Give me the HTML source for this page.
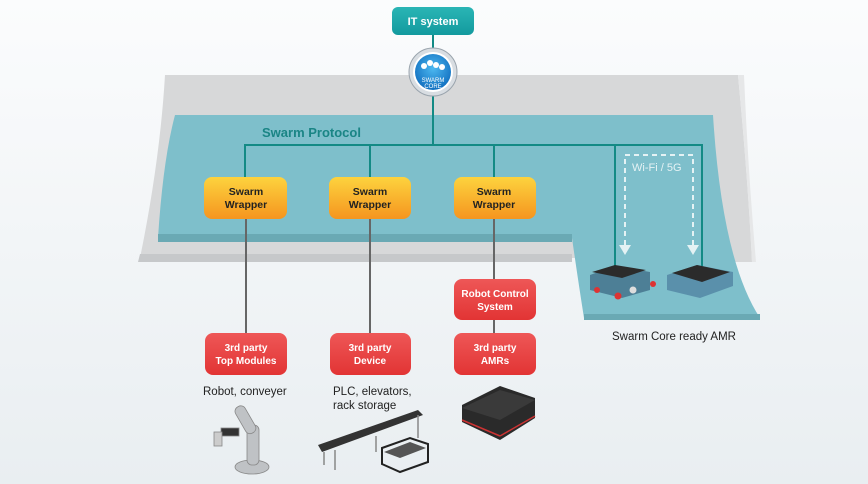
<!DOCTYPE html>
<html><head><meta charset="utf-8"><style>
html,body{margin:0;padding:0;background:#f2f5f7;}
svg{display:block;font-family:"Liberation Sans",sans-serif;}
</style></head><body>
<svg width="868" height="484" viewBox="0 0 868 484" xmlns="http://www.w3.org/2000/svg">
<defs>
<linearGradient id="bg" x1="0" y1="0" x2="0" y2="1"><stop offset="0" stop-color="#fbfcfd"/><stop offset="1" stop-color="#e9eef1"/></linearGradient>
<linearGradient id="org" x1="0" y1="0" x2="0" y2="1"><stop offset="0" stop-color="#fdd33e"/><stop offset="1" stop-color="#f5951f"/></linearGradient>
<linearGradient id="red" x1="0" y1="0" x2="0" y2="1"><stop offset="0" stop-color="#ee5757"/><stop offset="1" stop-color="#e23434"/></linearGradient>
<linearGradient id="tl" x1="0" y1="0" x2="0" y2="1"><stop offset="0" stop-color="#2ab5b5"/><stop offset="1" stop-color="#139a9e"/></linearGradient>
<radialGradient id="core" cx="0.5" cy="0.4" r="0.6"><stop offset="0" stop-color="#4cb8f0"/><stop offset="1" stop-color="#1270c0"/></radialGradient>
</defs>
<rect width="868" height="484" fill="url(#bg)"/>
<path d="M165 75 L738 75 Q748 180 752 262 L585 262 L585 258 L140 258 Q160 160 165 75Z" fill="#d7d8d9"/>
<path d="M140 254 L572 254 L572 262 L138 262Z" fill="#c6c8ca"/>
<path d="M738 75 Q748 180 752 262 L756 262 Q748 170 744 75Z" fill="#e6e7e8"/>
<path d="M175 115 L713 115 Q722 260 760 318 L584 318 Q578 280 572 238 L158 238 Q163 160 175 115Z" fill="#7ebfcb"/>
<path d="M158 234 L572 234 L572 242 L158 242Z" fill="#6aa9b4"/>
<path d="M584 314 L760 314 L760 320 L584 320Z" fill="#6aa9b4"/>
<text x="262" y="137" font-size="13" font-weight="bold" fill="#1a8585">Swarm Protocol</text>
<g stroke="#138a85" stroke-width="2" fill="none">
<line x1="433" y1="34" x2="433" y2="145"/>
<polyline points="245,178 245,145 702,145 702,270"/>
<line x1="370" y1="145" x2="370" y2="178"/>
<line x1="494" y1="145" x2="494" y2="178"/>
<line x1="615" y1="145" x2="615" y2="270"/>
</g>
<g stroke="#666" stroke-width="2">
<line x1="246" y1="219" x2="246" y2="333"/>
<line x1="370" y1="219" x2="370" y2="333"/>
<line x1="494" y1="219" x2="494" y2="280"/>
<line x1="494" y1="320" x2="494" y2="333"/>
</g>
<g stroke="#e4f2f4" stroke-width="2" stroke-dasharray="5,4" fill="none">
<polyline points="625,245 625,155 693,155 693,245"/>
</g>
<polygon points="619,245 631,245 625,255" fill="#e4f2f4"/>
<polygon points="687,245 699,245 693,255" fill="#e4f2f4"/>
<text x="632" y="171" font-size="11" fill="#e4f2f4">Wi-Fi / 5G</text>
<rect x="392" y="7" width="82" height="28" rx="6" fill="url(#tl)"/>
<text x="433" y="25" font-size="11" font-weight="bold" fill="#fff" text-anchor="middle">IT system</text>
<circle cx="433" cy="72" r="24" fill="#d8dde2" stroke="#9aa4ad" stroke-width="1"/>
<circle cx="433" cy="72" r="20" fill="#fff"/>
<circle cx="433" cy="72" r="18" fill="url(#core)"/>
<g fill="#fff"><circle cx="424" cy="66" r="3"/><circle cx="430" cy="63" r="3"/><circle cx="436" cy="65" r="3"/><circle cx="442" cy="67" r="3"/></g>
<text x="433" y="82" font-size="6" fill="#fff" text-anchor="middle">SWARM</text>
<text x="433" y="88" font-size="6" fill="#fff" text-anchor="middle">CORE</text>
<g font-size="10.5" font-weight="bold" fill="#222" text-anchor="middle">
<rect x="204" y="177" width="83" height="42" rx="8" fill="url(#org)"/>
<text x="246" y="195">Swarm</text><text x="246" y="208">Wrapper</text>
<rect x="329" y="177" width="82" height="42" rx="8" fill="url(#org)"/>
<text x="370" y="195">Swarm</text><text x="370" y="208">Wrapper</text>
<rect x="454" y="177" width="82" height="42" rx="8" fill="url(#org)"/>
<text x="494" y="195">Swarm</text><text x="494" y="208">Wrapper</text>
</g>
<g font-size="10" font-weight="bold" fill="#fff" text-anchor="middle">
<rect x="205" y="333" width="82" height="42" rx="8" fill="url(#red)"/>
<text x="246" y="351">3rd party</text><text x="246" y="364">Top Modules</text>
<rect x="330" y="333" width="81" height="42" rx="8" fill="url(#red)"/>
<text x="370" y="351">3rd party</text><text x="370" y="364">Device</text>
<rect x="454" y="333" width="82" height="42" rx="8" fill="url(#red)"/>
<text x="495" y="351">3rd party</text><text x="495" y="364">AMRs</text>
<rect x="454" y="279" width="82" height="41" rx="8" fill="url(#red)"/>
<text x="495" y="297">Robot Control</text><text x="495" y="310">System</text>
</g>
<g font-size="11.5" fill="#222">
<text x="203" y="395">Robot, conveyer</text>
<text x="333" y="395">PLC, elevators,</text>
<text x="333" y="409">rack storage</text>
<text x="612" y="340">Swarm Core ready AMR</text>
</g>
<g>
<path d="M590 275 L615 266 L650 272 L650 290 L622 298 L590 290Z" fill="#4d7f96"/>
<path d="M592 272 L615 265 L646 270 L622 278Z" fill="#2b2b2b"/>
<circle cx="597" cy="290" r="3" fill="#d33"/><circle cx="618" cy="296" r="3.5" fill="#d33"/><circle cx="633" cy="290" r="3.5" fill="#ddd"/><circle cx="653" cy="284" r="3" fill="#d33"/>
<path d="M667 275 L697 265 L733 272 L733 286 L700 298 L667 290Z" fill="#5a90ab"/>
<path d="M672 273 L697 265 L730 272 L702 282Z" fill="#2b2b2b"/>
</g>
<path d="M462 405 L500 386 L535 398 L535 418 L500 440 L462 422Z" fill="#2a2a2a"/>
<path d="M462 408 L500 390 L535 400 L500 420Z" fill="#3a3a3a"/>
<line x1="462" y1="420" x2="500" y2="436" stroke="#c33" stroke-width="1.5"/>
<line x1="500" y1="436" x2="535" y2="416" stroke="#c33" stroke-width="1.5"/>
<g fill="#bfc2c5" stroke="#888" stroke-width="0.8">
<ellipse cx="252" cy="467" rx="17" ry="7"/>
<rect x="247" y="425" width="12" height="40" rx="5"/>
<rect x="240" y="405" width="11" height="30" rx="5" transform="rotate(-30 245 420)"/>
<rect x="221" y="428" width="18" height="8" fill="#333"/>
<rect x="214" y="432" width="8" height="14" fill="#ccc"/>
</g>
<path d="M318 445 L418 410 L423 415 L322 452Z" fill="#333"/>
<g stroke="#888" stroke-width="1.5"><line x1="324" y1="452" x2="324" y2="465"/><line x1="335" y1="450" x2="335" y2="470"/><line x1="376" y1="436" x2="376" y2="452"/><line x1="418" y1="415" x2="418" y2="438"/></g>
<path d="M382 448 L410 438 L428 444 L428 462 L400 472 L382 464Z" fill="none" stroke="#222" stroke-width="2"/>
<path d="M384 452 L410 442 L426 448 L400 458Z" fill="#555"/>
</svg>
</body></html>
